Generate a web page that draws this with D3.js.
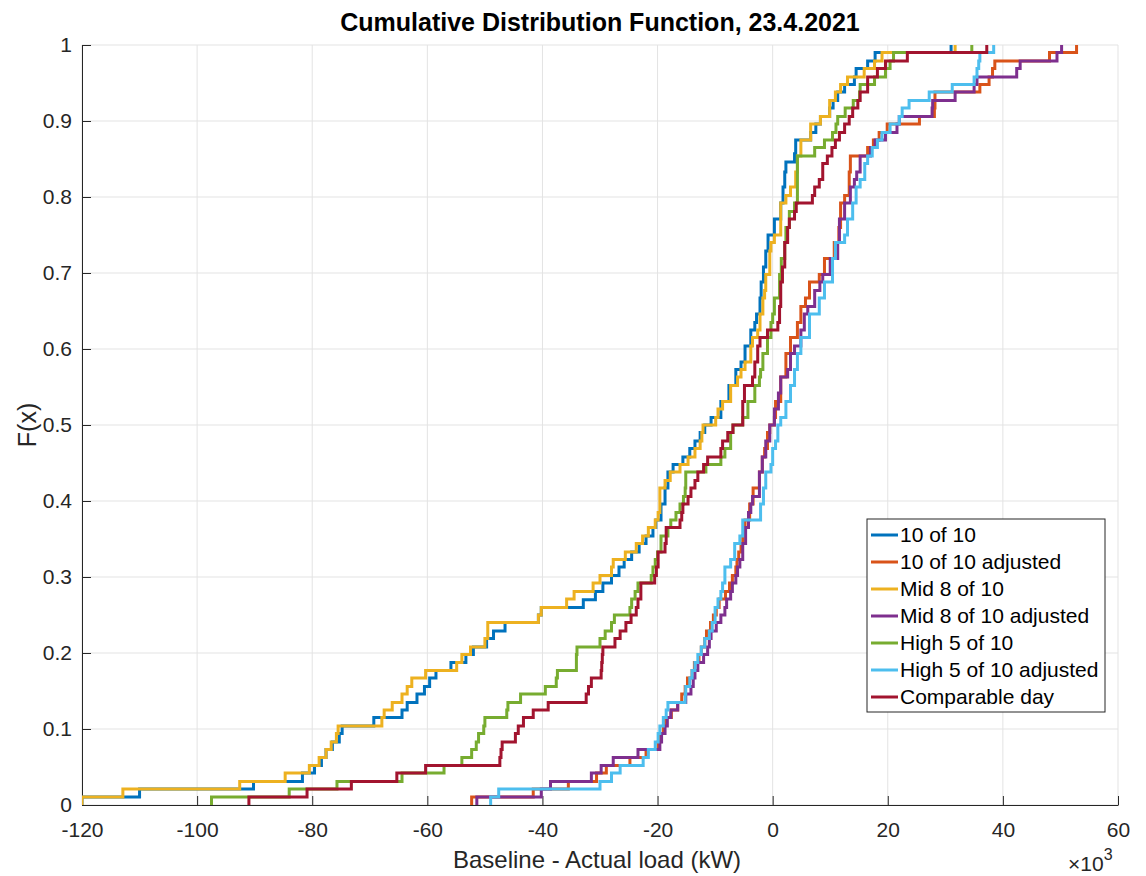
<!DOCTYPE html>
<html>
<head>
<meta charset="utf-8">
<title>Cumulative Distribution Function</title>
<script src="https://d3js.org/d3.v7.min.js"></script>
<style>
  body { margin: 0; background: #fff; }
  svg { font-family: "Liberation Sans", Arial, sans-serif; }
  .grid line { stroke: #e3e3e3; stroke-width: 1; }
  .axis text { font-size: 21px; fill: #262626; }
  .axis path, .axis line { stroke: #262626; }
</style>
</head>
<body>
<svg width="1146" height="876"></svg>
<script>
// ---- data (x in kW x 10^3, F = cumulative share) ----
const seriesNames = ["10 of 10", "10 of 10 adjusted", "Mid 8 of 10", "Mid 8 of 10 adjusted",
                     "High 5 of 10", "High 5 of 10 adjusted", "Comparable day"];
const seriesColors = ["#0072BD", "#D95319", "#EDB120", "#7E2F8E", "#77AC30", "#4DBEEE", "#A2142F"];

const tenOfTen = [[-120,0],[-120,0.0104],[-110,0.021],[-90.2,0.031],[-81.7,0.042],[-79.6,0.052],[-78.4,0.0625],[-77.6,0.073],[-76.5,0.083],[-75.3,0.094],[-74.8,0.104],[-69.3,0.115],[-64.4,0.125],[-63.5,0.135],[-61.8,0.146],[-60.5,0.156],[-59.6,0.167],[-58.5,0.177],[-55.9,0.1875],[-53.3,0.198],[-52,0.208],[-49.7,0.219],[-48.5,0.229],[-46.5,0.24],[-40.7,0.25],[-40.2,0.26],[-32.9,0.27],[-30.8,0.281],[-29.5,0.292],[-28,0.302],[-26.7,0.313],[-25.8,0.323],[-24.5,0.333],[-23.2,0.344],[-22,0.354],[-20.8,0.365],[-20.3,0.375],[-19.4,0.396],[-18.7,0.417],[-18.2,0.438],[-17.3,0.448],[-15.6,0.458],[-14.4,0.469],[-13.5,0.479],[-12.6,0.49],[-11.8,0.5],[-10.7,0.51],[-9,0.531],[-7.6,0.552],[-6.4,0.573],[-5.5,0.583],[-4.8,0.604],[-3.8,0.625],[-3.1,0.635],[-2.8,0.646],[-2.2,0.667],[-2,0.688],[-1.6,0.708],[-1.2,0.729],[-0.8,0.75],[0.3,0.771],[1.4,0.792],[1.8,0.813],[2.1,0.833],[2.3,0.846],[3.8,0.857],[4,0.875],[6.6,0.885],[7.5,0.896],[8.3,0.906],[9.9,0.917],[10.5,0.927],[11.3,0.938],[12.5,0.948],[14.2,0.958],[14.5,0.969],[16.5,0.979],[17.8,0.99],[31,1]];

const tenOfTenAdj = [[-52.3,0],[-52.3,0.0104],[-41.6,0.021],[-35.5,0.031],[-30.6,0.042],[-28.9,0.052],[-24.8,0.0625],[-22,0.073],[-19.9,0.083],[-19.6,0.094],[-19,0.104],[-18.8,0.115],[-17.6,0.125],[-16.5,0.135],[-15.8,0.146],[-15.2,0.156],[-14.8,0.167],[-14,0.177],[-13.6,0.1875],[-12.8,0.198],[-12.4,0.208],[-11.8,0.219],[-11.5,0.229],[-10.8,0.24],[-10.3,0.25],[-9.8,0.26],[-9.3,0.271],[-8.2,0.281],[-7.5,0.292],[-7,0.302],[-6.4,0.313],[-6.2,0.323],[-5.9,0.333],[-5.5,0.344],[-5.2,0.354],[-4.8,0.375],[-4,0.396],[-3.4,0.417],[-2.3,0.438],[-1.8,0.458],[-1.4,0.469],[-0.9,0.49],[-0.5,0.5],[0.3,0.51],[0.5,0.531],[1.4,0.563],[2.3,0.594],[3.1,0.615],[4.3,0.635],[4.9,0.656],[5.7,0.667],[6.4,0.688],[8.1,0.698],[9,0.719],[10.7,0.74],[11.5,0.76],[11.8,0.792],[12.5,0.802],[13.3,0.833],[13.5,0.854],[16.5,0.865],[17.5,0.875],[18.5,0.885],[19.9,0.896],[25.5,0.906],[28.1,0.917],[28.2,0.938],[36,0.948],[37.6,0.958],[38.2,0.969],[38.6,0.979],[48.1,0.99],[52.8,1]];

const midEight = [[-120,0],[-120,0.0104],[-112.9,0.021],[-92.6,0.031],[-84.7,0.042],[-80.5,0.052],[-78.8,0.0625],[-77.6,0.073],[-76.7,0.083],[-75.8,0.094],[-75.5,0.104],[-67.9,0.115],[-67.5,0.125],[-66.1,0.135],[-64.4,0.146],[-63.5,0.156],[-62.7,0.167],[-60.3,0.177],[-54.9,0.1875],[-54,0.198],[-52.5,0.208],[-50,0.219],[-49.5,0.24],[-40.7,0.25],[-40.2,0.26],[-35.8,0.271],[-34.5,0.281],[-31.2,0.292],[-30,0.302],[-28,0.313],[-27.7,0.323],[-25.6,0.333],[-23.7,0.344],[-22.6,0.354],[-21.6,0.365],[-20.4,0.375],[-19.9,0.385],[-19.6,0.417],[-18.7,0.427],[-17.8,0.438],[-16.1,0.448],[-14.7,0.458],[-13.5,0.469],[-12.6,0.479],[-12.3,0.49],[-12.1,0.5],[-9.9,0.51],[-9.5,0.521],[-8.7,0.531],[-7.3,0.552],[-6.1,0.563],[-5.5,0.573],[-4.8,0.583],[-3.8,0.604],[-3.5,0.615],[-2.6,0.625],[-2.2,0.646],[-1.7,0.667],[-1.4,0.677],[-1.2,0.698],[-0.5,0.729],[-0.3,0.74],[0.3,0.75],[1.4,0.792],[2.3,0.802],[3.1,0.813],[4,0.833],[4.3,0.854],[4.9,0.875],[6.6,0.896],[8.3,0.906],[9.9,0.927],[10.9,0.938],[11.8,0.948],[13,0.958],[15.9,0.969],[17.7,0.979],[19,0.99],[31.7,1]];

const midEightAdj = [[-51.4,0],[-51.4,0.0104],[-40.2,0.021],[-38.6,0.031],[-31.5,0.042],[-29.8,0.052],[-27.7,0.0625],[-23.4,0.073],[-19.6,0.083],[-19.3,0.094],[-18.7,0.104],[-18.3,0.115],[-17.7,0.125],[-16.5,0.135],[-15.1,0.146],[-14.2,0.156],[-13.8,0.167],[-13.5,0.177],[-13,0.1875],[-12,0.198],[-11.3,0.208],[-11,0.219],[-10.7,0.229],[-9.8,0.24],[-9,0.25],[-8.3,0.26],[-8,0.271],[-7.3,0.281],[-7,0.292],[-6.4,0.302],[-6.1,0.313],[-5.7,0.323],[-5.2,0.344],[-4.7,0.365],[-4.2,0.385],[-3.8,0.396],[-3.5,0.406],[-2.3,0.438],[-1.8,0.458],[-1.2,0.479],[-0.5,0.5],[0.3,0.521],[1,0.542],[1.4,0.563],[2.6,0.573],[3.1,0.594],[3.8,0.604],[4.9,0.625],[5.5,0.646],[6.1,0.656],[7.3,0.677],[8.2,0.688],[8.7,0.698],[10,0.719],[11.3,0.74],[11.6,0.771],[12.5,0.792],[13.5,0.813],[14.2,0.823],[14.6,0.833],[15.2,0.854],[17,0.865],[17.8,0.875],[19.6,0.885],[21.6,0.896],[22,0.906],[27.7,0.917],[27.8,0.927],[31.7,0.938],[35,0.948],[35.5,0.958],[42.4,0.969],[43,0.979],[49.4,0.99],[50.2,1]];

const highFive = [[-97.5,0],[-97.5,0.0104],[-84,0.021],[-75.7,0.031],[-64.4,0.042],[-57.1,0.052],[-54,0.0625],[-52.3,0.073],[-51.5,0.083],[-51.1,0.094],[-50.2,0.104],[-50,0.115],[-46.2,0.125],[-46,0.135],[-43.8,0.146],[-39.5,0.156],[-37.6,0.167],[-37.4,0.177],[-34.1,0.198],[-34,0.208],[-30,0.219],[-29.1,0.229],[-28,0.24],[-27.5,0.25],[-24.8,0.26],[-24.5,0.271],[-23.9,0.281],[-23.4,0.292],[-21.1,0.302],[-20.8,0.313],[-20.4,0.323],[-20,0.333],[-19.4,0.354],[-18.2,0.365],[-17.7,0.375],[-16.8,0.385],[-16.1,0.396],[-15.5,0.406],[-15.2,0.417],[-15.1,0.438],[-11.6,0.448],[-9,0.458],[-8.3,0.469],[-7.3,0.49],[-6.9,0.5],[-5.2,0.51],[-4.3,0.531],[-3.1,0.552],[-2.3,0.563],[-2.1,0.573],[-1.7,0.594],[-0.9,0.615],[-0.3,0.635],[0,0.646],[0.3,0.667],[1.2,0.698],[1.5,0.719],[2.1,0.74],[2.3,0.76],[2.9,0.781],[3.8,0.792],[4.3,0.854],[7.3,0.865],[9,0.875],[10.4,0.885],[11,0.896],[11.3,0.906],[12.6,0.917],[14,0.927],[15.1,0.938],[15.2,0.948],[17.7,0.958],[19.6,0.969],[20.4,0.979],[21,0.99],[34.6,1]];

const highFiveAdj = [[-49,0],[-49,0.0104],[-47.6,0.021],[-30,0.031],[-28,0.042],[-26.5,0.052],[-22.5,0.0625],[-21.6,0.073],[-20.4,0.083],[-19.9,0.094],[-19.6,0.104],[-19,0.115],[-18.5,0.125],[-18.2,0.135],[-15.2,0.146],[-15.1,0.156],[-14.4,0.167],[-14,0.177],[-13.5,0.1875],[-13,0.198],[-12.4,0.208],[-11.8,0.219],[-11,0.229],[-10.5,0.24],[-10,0.26],[-9.5,0.271],[-9,0.281],[-8.7,0.292],[-8.3,0.313],[-7.3,0.323],[-6.6,0.344],[-5.7,0.354],[-5.2,0.375],[-2.1,0.396],[-1.6,0.417],[-1.2,0.438],[-0.3,0.448],[0,0.469],[0.5,0.479],[0.9,0.5],[1.4,0.51],[2.3,0.531],[3.1,0.552],[3.8,0.573],[4.3,0.594],[4.9,0.615],[6.4,0.646],[8.1,0.667],[9,0.688],[10.4,0.719],[10.9,0.74],[12.5,0.75],[13,0.771],[13.9,0.792],[14.5,0.813],[15.2,0.823],[16,0.844],[16.5,0.854],[17.3,0.865],[18.2,0.875],[19,0.885],[20.4,0.896],[22,0.906],[22.5,0.917],[23.7,0.927],[27.2,0.938],[31.2,0.948],[35,0.958],[35.5,0.969],[35.8,0.979],[36,0.99],[38.4,1]];

const comparableDay = [[-91,0],[-91,0.0104],[-80.9,0.021],[-73.2,0.031],[-65.3,0.042],[-60.3,0.052],[-47.4,0.0625],[-47.2,0.073],[-47,0.083],[-44.7,0.094],[-44.2,0.104],[-43.3,0.115],[-41.6,0.125],[-39,0.135],[-32.4,0.146],[-32,0.156],[-31.5,0.167],[-29.8,0.177],[-29.7,0.1875],[-29.6,0.198],[-29.5,0.208],[-27.4,0.219],[-26.5,0.229],[-25.5,0.24],[-24.6,0.25],[-23.7,0.26],[-23.4,0.271],[-22.9,0.292],[-20.5,0.302],[-20.2,0.313],[-19.9,0.333],[-18.7,0.344],[-18.5,0.365],[-16.1,0.375],[-15.8,0.385],[-15.6,0.396],[-14.7,0.406],[-14.2,0.417],[-13.5,0.427],[-13,0.438],[-12,0.448],[-11.3,0.458],[-9,0.469],[-8.7,0.479],[-7.8,0.49],[-6.9,0.5],[-5.2,0.531],[-4.9,0.552],[-3.5,0.563],[-3.1,0.583],[-2.6,0.604],[-2.2,0.615],[-0.9,0.625],[0.9,0.635],[1.2,0.656],[1.4,0.688],[1.7,0.708],[2.1,0.74],[2.6,0.76],[2.9,0.771],[3.8,0.781],[4.1,0.792],[6.9,0.802],[7.3,0.813],[8.1,0.823],[8.7,0.844],[9.5,0.854],[10.3,0.865],[10.9,0.875],[11.6,0.885],[12.5,0.896],[13.3,0.906],[13.9,0.917],[14.8,0.927],[15.2,0.938],[16.5,0.958],[18.2,0.969],[19.6,0.979],[23.4,0.99],[37.2,1]];

const allSeries = [tenOfTen, tenOfTenAdj, midEight, midEightAdj, highFive, highFiveAdj, comparableDay];

const xTicks = [-120, -100, -80, -60, -40, -20, 0, 20, 40, 60];
const yTicks = [0, 0.1, 0.2, 0.3, 0.4, 0.5, 0.6, 0.7, 0.8, 0.9, 1];

// ---- layout ----
const margin = {top: 45, right: 28, bottom: 71, left: 82};
const width = 1146 - margin.left - margin.right,
      height = 876 - margin.top - margin.bottom;

const svg = d3.select("svg");
const g = svg.append("g")
    .attr("transform", "translate(" + margin.left + "," + margin.top + ")");

const x = d3.scaleLinear().domain([-120, 60]).range([0, width]);
const y = d3.scaleLinear().domain([0, 1]).range([height, 0]);

// grid
g.append("g").attr("class", "grid")
  .selectAll("line.vx").data(xTicks).enter().append("line")
  .attr("x1", d => x(d)).attr("x2", d => x(d))
  .attr("y1", 0).attr("y2", height);
g.append("g").attr("class", "grid")
  .selectAll("line.hy").data(yTicks).enter().append("line")
  .attr("x1", 0).attr("x2", width)
  .attr("y1", d => y(d)).attr("y2", d => y(d));

// axes (ticks inward like MATLAB)
const xAxis = g.append("g").attr("class", "axis")
    .attr("transform", `translate(0,${height})`)
    .call(d3.axisBottom(x).tickValues(xTicks).tickSizeInner(-9).tickSizeOuter(0).tickPadding(17).tickFormat(d3.format("d")));
xAxis.selectAll("text").text(d => d < 0 ? "-" + Math.abs(d) : d);

const yAxis = g.append("g").attr("class", "axis")
    .call(d3.axisLeft(y).tickValues(yTicks).tickSizeInner(-9).tickSizeOuter(0).tickPadding(10)
      .tickFormat(d => d === 0 || d === 1 ? d3.format("d")(d) : d3.format(".1f")(d)));

// lines
const line = d3.line()
    .x(d => x(d[0]))
    .y(d => y(d[1]))
    .curve(d3.curveStepAfter);

g.append("defs").append("clipPath").attr("id", "clip")
  .append("rect").attr("x", 0).attr("y", -2).attr("width", width).attr("height", height + 4);

g.append("g").attr("clip-path", "url(#clip)")
  .selectAll("path.cdf").data(allSeries).enter().append("path")
  .attr("class", "cdf")
  .attr("d", line)
  .attr("fill", "none")
  .attr("stroke", (d, i) => seriesColors[i])
  .attr("stroke-width", 3)
  .attr("stroke-linejoin", "miter");

// title + labels
svg.append("text")
  .attr("x", margin.left + width / 2)
  .attr("y", 31)
  .attr("text-anchor", "middle")
  .style("font-size", "25px")
  .style("font-weight", "bold")
  .style("fill", "#000")
  .text("Cumulative Distribution Function, 23.4.2021");

svg.append("text")
  .attr("x", margin.left + width / 2 - 3)
  .attr("y", 868)
  .attr("text-anchor", "middle")
  .style("font-size", "24px")
  .style("fill", "#262626")
  .text("Baseline - Actual load (kW)");

svg.append("text")
  .attr("transform", `translate(36,${margin.top + height / 2}) rotate(-90)`)
  .attr("text-anchor", "middle")
  .style("font-size", "25px")
  .style("fill", "#262626")
  .text("F(x)");

// x10^3 exponent label
const expo = svg.append("text")
  .attr("x", 1068)
  .attr("y", 871)
  .style("font-size", "21px")
  .style("fill", "#262626");
expo.append("tspan").text("\u00d710");
expo.append("tspan").attr("dy", -11).style("font-size", "16px").text("3");

// legend
const legend = svg.append("g").attr("transform", "translate(867,519)");
legend.append("rect")
  .attr("width", 238).attr("height", 193)
  .attr("fill", "#fff").attr("stroke", "#262626").attr("stroke-width", 1);
const item = legend.selectAll("g.item").data(seriesNames).enter().append("g")
  .attr("transform", (d, i) => `translate(0,${16 + i * 27})`);
item.append("line")
  .attr("x1", 4).attr("x2", 31)
  .attr("stroke", (d, i) => seriesColors[i])
  .attr("stroke-width", 3);
item.append("text")
  .attr("x", 33).attr("dy", "0.35em")
  .style("font-size", "21px")
  .style("fill", "#000")
  .text(d => d);
</script>
</body>
</html>
